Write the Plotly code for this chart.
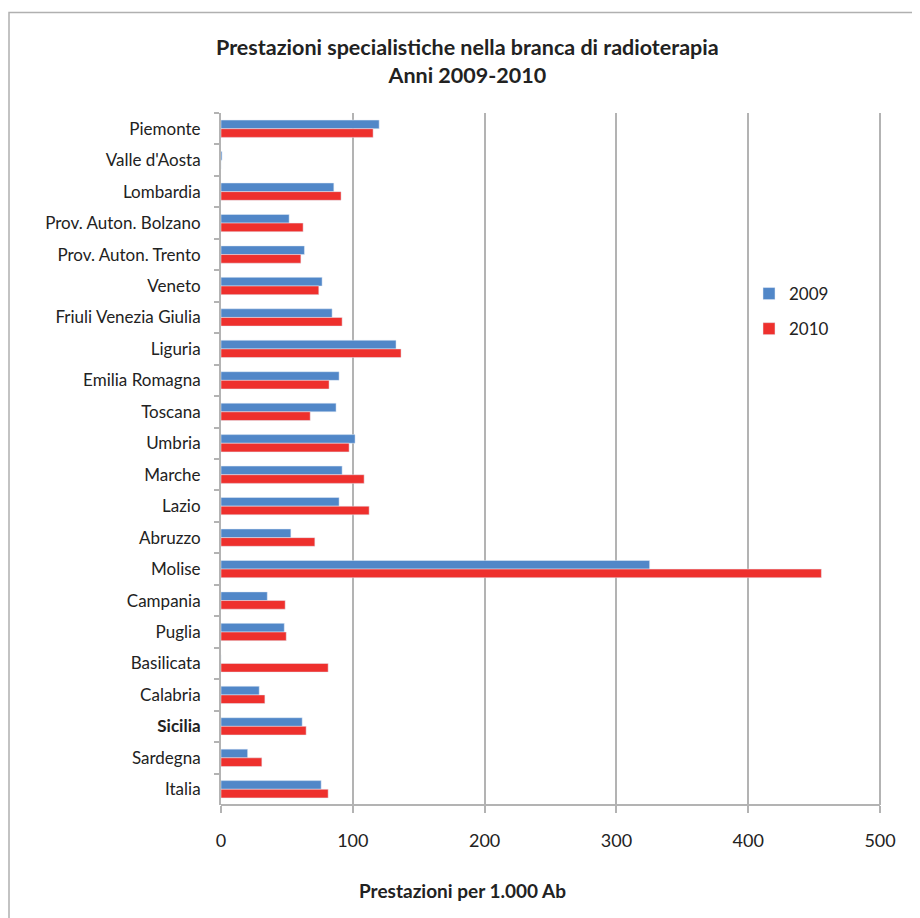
import plotly.graph_objects as go

regions = ["Piemonte", "Valle d'Aosta", "Lombardia", "Prov. Auton. Bolzano", "Prov. Auton. Trento",
           "Veneto", "Friuli Venezia Giulia", "Liguria", "Emilia Romagna", "Toscana", "Umbria",
           "Marche", "Lazio", "Abruzzo", "Molise", "Campania", "Puglia", "Basilicata", "Calabria",
           "<b>Sicilia</b>", "Sardegna", "Italia"]
v2009 = [120, 0.8, 85.6, 51.7, 63.3, 76.7, 84.3, 132.8, 89.6, 87.3, 101.7, 91.9, 89.6, 53.0,
         325.2, 35.1, 48.0, 0, 29.0, 61.6, 20.2, 76.0]
v2010 = [115.4, 0, 91.1, 62.3, 60.6, 74.2, 91.9, 136.6, 82.0, 67.7, 97.2, 108.6, 112.4, 71.2,
         455.5, 48.7, 49.5, 81.3, 33.3, 64.6, 31.0, 81.3]
xticks = [0, 100, 200, 300, 400, 500]

FONT = "Lato, 'Open Sans', sans-serif"
GRID = "#b3b3b3"
TXT = "#222222"

# page is offset by the body margin (8px); plot area spans x 221..884, y 113..805 on the page
PW, PH = 663, 692


def px(x):
    return (x - 221) / PW


def py(y):
    return (805 - y) / PH


fig = go.Figure()
fig.add_trace(go.Bar(y=regions, x=v2009, orientation="h", name="2009",
                     marker=dict(color="#5187c8"), legendgroup="a"))
fig.add_trace(go.Bar(y=regions, x=v2010, orientation="h", name="2010",
                     marker=dict(color="#ee302d"), legendgroup="b"))

fig.update_layout(
    width=912, height=910,
    margin=dict(l=213, r=36, t=105, b=113),
    paper_bgcolor="white", plot_bgcolor="white",
    barmode="group", bargap=0.45, bargroupgap=0,
    font=dict(family=FONT, color=TXT),
    showlegend=True,
    legend=dict(x=px(749), y=py(276), xanchor="left", yanchor="top",
                font=dict(size=17, color=TXT), tracegroupgap=10,
                bgcolor="rgba(0,0,0,0)", itemwidth=30),
    xaxis=dict(range=[0, 503], tickvals=xticks, showgrid=True, gridcolor=GRID, gridwidth=2,
               zeroline=False, showline=False,
               ticks="outside", ticklen=7, tickcolor=GRID,
               tickwidth=2, tickfont=dict(size=18, color=TXT), ticklabelstandoff=12),
    yaxis=dict(autorange="reversed", type="category", showline=True, linecolor=GRID, linewidth=2,
               ticks="outside", tickson="boundaries", ticklen=5, tickcolor=GRID, tickwidth=2,
               showgrid=False, tickfont=dict(size=17, color=TXT), ticklabelstandoff=15),
)

# bottom axis line, ending at the 500 gridline
fig.add_shape(type="line", xref="x", yref="paper", x0=0, x1=xticks[-1], y0=0, y1=0,
              line=dict(color=GRID, width=2))

fig.add_annotation(text="<b>Prestazioni specialistiche nella branca di radioterapia<br>Anni 2009-2010</b>",
                   xref="paper", yref="paper", x=px(467), y=py(61),
                   showarrow=False, font=dict(size=21.5, color=TXT, family=FONT),
                   xanchor="center", yanchor="middle")
fig.add_annotation(text="<b>Prestazioni per 1.000 Ab</b>", xref="paper", yref="paper",
                   x=px(462), y=py(890), showarrow=False,
                   font=dict(size=19, color=TXT, family=FONT),
                   xanchor="center", yanchor="middle")
fig.add_shape(type="rect", xref="paper", yref="paper",
              x0=px(9), x1=px(940), y0=py(940), y1=py(12.5),
              line=dict(color="#b0b0b0", width=1.5), layer="below")

fig.write_html("out.html")
